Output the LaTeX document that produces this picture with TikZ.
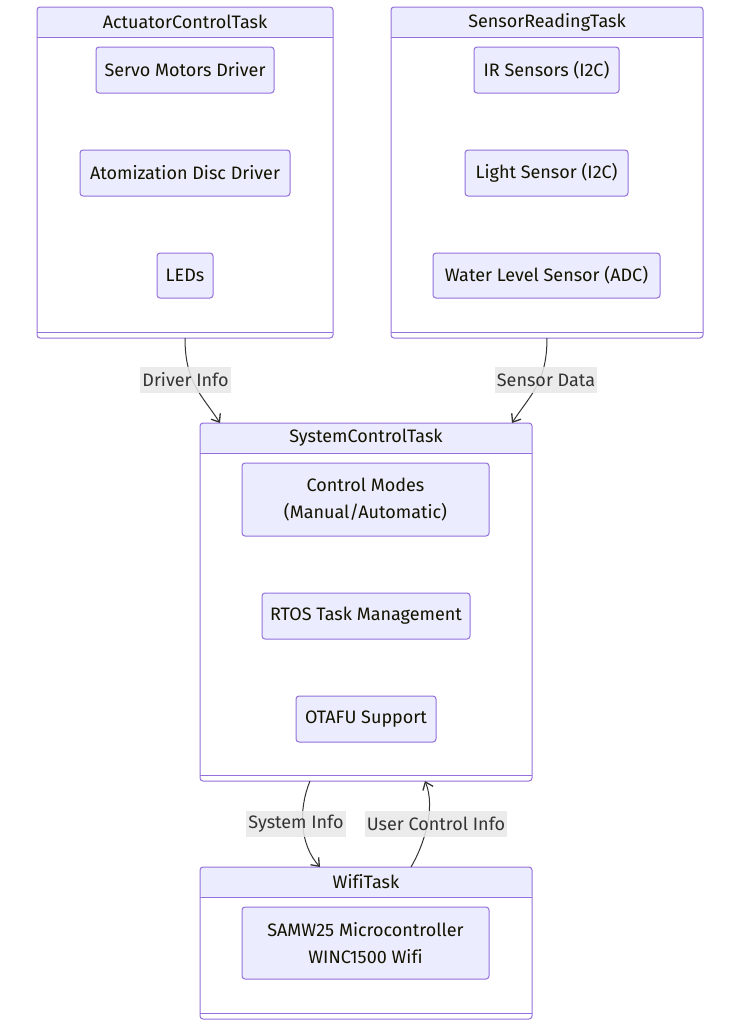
\documentclass[tikz,border=0pt]{standalone}
\usepackage{fontspec}
\setmainfont{Fira Sans}[Ligatures=NoCommon]
\usetikzlibrary{arrows.meta,positioning}
\definecolor{mylav}{RGB}{236,236,255}
\definecolor{mypurple}{RGB}{147,112,219}
\definecolor{mytext}{RGB}{19,19,0}
\definecolor{mylabel}{RGB}{232,232,232}
\definecolor{myarrow}{RGB}{51,51,51}

\begin{document}
\begin{tikzpicture}[x=1pt,y=-1pt,
  every node/.style={font=\fontsize{18}{22}\selectfont,text=mytext,outer sep=0pt},
  frame/.style={draw=mypurple,fill=white,rounded corners=3pt,line width=1pt,inner sep=0pt,
    path picture={
      \fill[mylav] (path picture bounding box.north west) rectangle ([yshift=-30pt]path picture bounding box.north east);
      \draw[mypurple,line width=1pt] ([yshift=-30pt]path picture bounding box.north west) -- ([yshift=-30pt]path picture bounding box.north east);
      \draw[mypurple,line width=1pt] ([yshift=6pt]path picture bounding box.south west) -- ([yshift=6pt]path picture bounding box.south east);}},
  item/.style={draw=mypurple,fill=mylav,rounded corners=3pt,line width=1pt,minimum height=46pt,inner sep=0pt,align=center},
  twoline/.style={font=\fontsize{18}{27}\selectfont},
  flow/.style={draw=myarrow,line width=1pt,-{Straight Barb[length=7pt,width=11pt,line width=1.3pt]}},
  lbl/.style={fill=mylabel,fill opacity=0.85,text opacity=1,text=myarrow,inner sep=2pt,minimum height=26pt}]
\useasboundingbox (0,0) rectangle (742,1029);

\node[frame,minimum width=296pt,minimum height=331pt] (act) at (185,172.5) {};
\node (act-title) at ([yshift=-15pt]act.north) {ActuatorControlTask};
\node[item,minimum width=178pt] (servo) at (185,70) {Servo Motors Driver};
\node[item,minimum width=210pt] (atom) at (185,173) {Atomization Disc Driver};
\node[item,minimum width=56pt,minimum height=45pt] (leds) at (185,275.5) {LEDs};

\node[frame,minimum width=312pt,minimum height=331pt] (sen) at (547,172.5) {};
\node (sen-title) at ([yshift=-15pt]sen.north) {SensorReadingTask};
\node[item,minimum width=145pt] (ir) at (546.5,70) {IR Sensors (I2C)};
\node[item,minimum width=163pt] (light) at (546.5,173) {Light Sensor (I2C)};
\node[item,minimum width=227pt,minimum height=45pt] (water) at (546.5,275.5) {Water Level Sensor (ADC)};

\node[frame,minimum width=332pt,minimum height=358pt] (sys) at (366,602) {};
\node (sys-title) at ([yshift=-15pt]sys.north) {SystemControlTask};
\node[item,twoline,minimum width=247pt,minimum height=73pt] (modes) at (365.5,499.5) {Control Modes\\(Manual/Automatic)};
\node[item,minimum width=208pt] (rtos) at (366,616) {RTOS Task Management};
\node[item,minimum width=140pt] (otafu) at (366,719) {OTAFU Support};

\node[frame,minimum width=332pt,minimum height=152pt] (wifi) at (366,943) {};
\node (wifi-title) at ([yshift=-15pt]wifi.north) {WifiTask};
\node[item,twoline,minimum width=247pt,minimum height=72pt] (samw) at (365.5,943) {SAMW25 Microcontroller\\WINC1500 Wifi};

\draw[flow] (act.south) .. controls +(0,45) and +(-18,-28) .. ([xshift=-146pt]sys.north);
\draw[flow] (sen.south) .. controls +(0,45) and +(18,-28) .. ([xshift=146pt]sys.north);
\draw[flow] ([xshift=-56pt]sys.south) .. controls +(-12,29) and +(-20,-22) .. ([xshift=-46pt]wifi.north);
\draw[flow] ([xshift=45pt]wifi.north) .. controls +(13,-22) and +(11,27) .. ([xshift=59pt]sys.south);

\node[lbl] (driver-info) at (185.5,380) {Driver Info};
\node[lbl] (sensor-data) at (546,380) {Sensor Data};
\node[lbl] (system-info) at (296,823.5) {System Info};
\node[lbl] (user-info) at (436,823.5) {User Control Info};
\end{tikzpicture}
\end{document}
